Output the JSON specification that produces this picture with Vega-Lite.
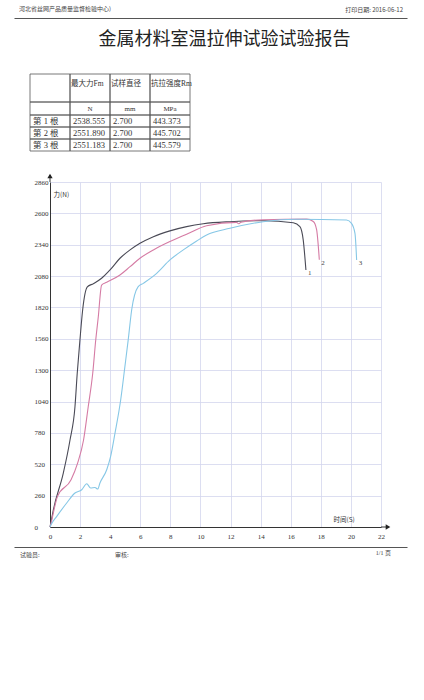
{
  "$schema": "https://vega.github.io/schema/vega-lite/v6.json",
  "background": "white",
  "padding": {"left": 19, "top": 0, "right": 14, "bottom": 20},
  "spacing": 0,
  "bounds": "flush",
  "config": {
    "view": {"stroke": null},
    "text": {"font": "Liberation Serif, Noto Sans CJK SC", "color": "#333"}
  },
  "datasets": {
    "curves": [
      {"s": "1", "t": 0, "F": 0}, {"s": "1", "t": 0.07, "F": 44}, {"s": "1", "t": 0.22, "F": 141},
      {"s": "1", "t": 0.88, "F": 445}, {"s": "1", "t": 1.33, "F": 721}, {"s": "1", "t": 1.66, "F": 997},
      {"s": "1", "t": 1.81, "F": 1274}, {"s": "1", "t": 1.99, "F": 1550}, {"s": "1", "t": 2.17, "F": 1799},
      {"s": "1", "t": 2.48, "F": 1990}, {"s": "1", "t": 2.88, "F": 2017}, {"s": "1", "t": 3.43, "F": 2062},
      {"s": "1", "t": 3.99, "F": 2131}, {"s": "1", "t": 4.65, "F": 2228}, {"s": "1", "t": 5.32, "F": 2297},
      {"s": "1", "t": 5.98, "F": 2352}, {"s": "1", "t": 6.87, "F": 2407}, {"s": "1", "t": 7.97, "F": 2455},
      {"s": "1", "t": 9.08, "F": 2490}, {"s": "1", "t": 10.19, "F": 2514}, {"s": "1", "t": 11.96, "F": 2531},
      {"s": "1", "t": 14.17, "F": 2539}, {"s": "1", "t": 16.17, "F": 2522}, {"s": "1", "t": 16.61, "F": 2490},
      {"s": "1", "t": 16.83, "F": 2380}, {"s": "1", "t": 17.01, "F": 2131},
      {"s": "2", "t": 0, "F": 0}, {"s": "2", "t": 0.07, "F": 30}, {"s": "2", "t": 0.22, "F": 116},
      {"s": "2", "t": 0.5, "F": 254}, {"s": "2", "t": 1.4, "F": 392}, {"s": "2", "t": 1.83, "F": 528},
      {"s": "2", "t": 2.23, "F": 721}, {"s": "2", "t": 2.54, "F": 997}, {"s": "2", "t": 2.84, "F": 1274},
      {"s": "2", "t": 3.04, "F": 1550}, {"s": "2", "t": 3.21, "F": 1743}, {"s": "2", "t": 3.43, "F": 2006},
      {"s": "2", "t": 3.77, "F": 2029}, {"s": "2", "t": 4.65, "F": 2089}, {"s": "2", "t": 5.32, "F": 2158},
      {"s": "2", "t": 5.98, "F": 2228}, {"s": "2", "t": 6.87, "F": 2297}, {"s": "2", "t": 7.97, "F": 2366},
      {"s": "2", "t": 9.08, "F": 2427}, {"s": "2", "t": 10.41, "F": 2498}, {"s": "2", "t": 12.4, "F": 2525},
      {"s": "2", "t": 12.55, "F": 2514}, {"s": "2", "t": 12.7, "F": 2527}, {"s": "2", "t": 14.17, "F": 2547},
      {"s": "2", "t": 17.06, "F": 2552}, {"s": "2", "t": 17.5, "F": 2533}, {"s": "2", "t": 17.72, "F": 2465},
      {"s": "2", "t": 17.9, "F": 2216},
      {"s": "3", "t": 0, "F": 0}, {"s": "3", "t": 0.07, "F": 19}, {"s": "3", "t": 0.45, "F": 88},
      {"s": "3", "t": 1.11, "F": 199}, {"s": "3", "t": 1.66, "F": 282}, {"s": "3", "t": 2.11, "F": 309},
      {"s": "3", "t": 2.44, "F": 359}, {"s": "3", "t": 2.7, "F": 323}, {"s": "3", "t": 2.99, "F": 328},
      {"s": "3", "t": 3.17, "F": 315}, {"s": "3", "t": 3.32, "F": 365}, {"s": "3", "t": 3.77, "F": 475},
      {"s": "3", "t": 4.03, "F": 585}, {"s": "3", "t": 4.32, "F": 778}, {"s": "3", "t": 4.7, "F": 1055},
      {"s": "3", "t": 4.98, "F": 1331}, {"s": "3", "t": 5.2, "F": 1553}, {"s": "3", "t": 5.43, "F": 1801},
      {"s": "3", "t": 5.85, "F": 1990}, {"s": "3", "t": 6.2, "F": 2020}, {"s": "3", "t": 7.09, "F": 2103},
      {"s": "3", "t": 7.97, "F": 2214}, {"s": "3", "t": 8.86, "F": 2297}, {"s": "3", "t": 9.75, "F": 2371},
      {"s": "3", "t": 10.41, "F": 2421}, {"s": "3", "t": 11.96, "F": 2476}, {"s": "3", "t": 14.17, "F": 2531},
      {"s": "3", "t": 16.39, "F": 2551}, {"s": "3", "t": 19.71, "F": 2545}, {"s": "3", "t": 20.04, "F": 2517},
      {"s": "3", "t": 20.27, "F": 2434}, {"s": "3", "t": 20.38, "F": 2214}
    ],
    "table": [
      {"part": "head", "row": "head", "col": "label", "text": ""},
      {"part": "head", "row": "head", "col": "Fm", "text": "最大力Fm"},
      {"part": "head", "row": "head", "col": "d0", "text": "试样直径"},
      {"part": "head", "row": "head", "col": "Rm", "text": "抗拉强度Rm"},
      {"part": "unit", "row": "unit", "col": "label", "text": ""},
      {"part": "unit", "row": "unit", "col": "Fm", "text": "N"},
      {"part": "unit", "row": "unit", "col": "d0", "text": "mm"},
      {"part": "unit", "row": "unit", "col": "Rm", "text": "MPa"},
      {"part": "body", "row": "第 1 根", "col": "label", "text": "第 1 根"},
      {"part": "body", "row": "第 1 根", "col": "Fm", "text": "2538.555"},
      {"part": "body", "row": "第 1 根", "col": "d0", "text": "2.700"},
      {"part": "body", "row": "第 1 根", "col": "Rm", "text": "443.373"},
      {"part": "body", "row": "第 2 根", "col": "label", "text": "第 2 根"},
      {"part": "body", "row": "第 2 根", "col": "Fm", "text": "2551.890"},
      {"part": "body", "row": "第 2 根", "col": "d0", "text": "2.700"},
      {"part": "body", "row": "第 2 根", "col": "Rm", "text": "445.702"},
      {"part": "body", "row": "第 3 根", "col": "label", "text": "第 3 根"},
      {"part": "body", "row": "第 3 根", "col": "Fm", "text": "2551.183"},
      {"part": "body", "row": "第 3 根", "col": "d0", "text": "2.700"},
      {"part": "body", "row": "第 3 根", "col": "Rm", "text": "445.579"}
    ]
  },
  "vconcat": [
    {
      "width": 331, "height": 18,
      "data": {"values": [
        {"label": "河北省丝网产品质量监督检验中心)", "side": "left"},
        {"label": "打印日期: 2016-06-12", "side": "right"}
      ]},
      "encoding": {
        "x": {"field": "side", "type": "nominal",
              "scale": {"type": "point", "domain": ["left", "right"], "range": [-36, 357], "padding": 0},
              "axis": {"orient": "bottom", "labels": false, "ticks": false, "title": null, "grid": false, "domainColor": "#555", "domainWidth": 1.2}},
        "text": {"field": "label"}
      },
      "layer": [
        {"transform": [{"filter": "datum.side === 'left'"}],
         "mark": {"type": "text", "align": "left", "dx": 5, "fontSize": 6, "font": "Noto Sans CJK SC", "color": "#444"}},
        {"transform": [{"filter": "datum.side === 'right'"}],
         "mark": {"type": "text", "align": "right", "dx": -4, "dy": 1, "fontSize": 6, "font": "Noto Sans CJK SC", "color": "#444"}}
      ]
    },
    {
      "width": 331, "height": 44,
      "data": {"values": [{"title": "金属材料室温拉伸试验试验报告"}]},
      "mark": {"type": "text", "fontSize": 18, "dx": 9, "font": "Noto Sans CJK SC", "color": "#222"},
      "encoding": {"text": {"field": "title"}}
    },
    {
      "width": 331, "height": 120,
      "resolve": {"scale": {"y": "independent"}},
      "layer": [
        {
          "data": {"name": "table"},
          "transform": [{"filter": "datum.part === 'head'"}],
          "encoding": {
            "x": {"field": "col", "type": "nominal", "scale": {"type": "band", "domain": ["label", "Fm", "d0", "Rm"], "range": [-20, 140], "paddingInner": 0, "paddingOuter": 0}, "axis": null},
            "y": {"field": "row", "type": "nominal", "scale": {"type": "band", "domain": ["head"], "range": [12, 40], "paddingInner": 0, "paddingOuter": 0}, "axis": null}
          },
          "layer": [
            {"mark": {"type": "rect", "fill": "transparent", "stroke": "#555", "strokeWidth": 0.8}},
            {"mark": {"type": "text", "align": "left", "dx": 1, "dy": -4, "fontSize": 7.5},
             "encoding": {
               "x": {"field": "col", "type": "nominal", "bandPosition": 0, "scale": {"type": "band", "domain": ["label", "Fm", "d0", "Rm"], "range": [-20, 140], "paddingInner": 0, "paddingOuter": 0}, "axis": null},
               "text": {"field": "text"}}}
          ]
        },
        {
          "data": {"name": "table"},
          "transform": [{"filter": "datum.part === 'unit'"}],
          "encoding": {
            "x": {"field": "col", "type": "nominal", "scale": {"type": "band", "domain": ["label", "Fm", "d0", "Rm"], "range": [-20, 140], "paddingInner": 0, "paddingOuter": 0}, "axis": null},
            "y": {"field": "row", "type": "nominal", "scale": {"type": "band", "domain": ["unit"], "range": [40, 53], "paddingInner": 0, "paddingOuter": 0}, "axis": null}
          },
          "layer": [
            {"mark": {"type": "rect", "fill": "transparent", "stroke": "#555", "strokeWidth": 0.8}},
            {"mark": {"type": "text", "align": "center", "fontSize": 7},
             "encoding": {"text": {"field": "text"}}}
          ]
        },
        {
          "data": {"name": "table"},
          "transform": [{"filter": "datum.part === 'body'"}],
          "encoding": {
            "x": {"field": "col", "type": "nominal", "scale": {"type": "band", "domain": ["label", "Fm", "d0", "Rm"], "range": [-20, 140], "paddingInner": 0, "paddingOuter": 0}, "axis": null},
            "y": {"field": "row", "type": "nominal", "scale": {"type": "band", "domain": ["第 1 根", "第 2 根", "第 3 根"], "range": [53, 89], "paddingInner": 0, "paddingOuter": 0}, "axis": null}
          },
          "layer": [
            {"mark": {"type": "rect", "fill": "transparent", "stroke": "#555", "strokeWidth": 0.8}},
            {"mark": {"type": "text", "align": "left", "dx": 3, "fontSize": 8.5},
             "encoding": {
               "x": {"field": "col", "type": "nominal", "bandPosition": 0, "scale": {"type": "band", "domain": ["label", "Fm", "d0", "Rm"], "range": [-20, 140], "paddingInner": 0, "paddingOuter": 0}, "axis": null},
               "text": {"field": "text"}}}
          ]
        }
      ]
    },
    {
      "width": 331, "height": 345,
      "resolve": {"axis": {"x": "independent", "y": "independent"}},
      "layer": [
        {
          "data": {"name": "curves"},
          "mark": {"type": "line", "strokeWidth": 1.1, "interpolate": "monotone"},
          "encoding": {
            "x": {"field": "t", "type": "quantitative",
                  "scale": {"domain": [0, 22], "nice": false, "zero": false},
                  "axis": {"values": [0, 2, 4, 6, 8, 10, 12, 14, 16, 18, 20, 22], "format": "d", "grid": true, "gridColor": "#d3d6ee", "gridWidth": 0.8,
                           "domain": true, "domainColor": "#333", "domainWidth": 1, "ticks": false,
                           "labelFont": "Liberation Serif", "labelFontSize": 7, "labelColor": "#333", "labelPadding": 5, "labelFlush": false, "labelOverlap": false,
                           "title": "时间(S)", "titleFont": "Noto Sans CJK SC", "titleFontSize": 6.5, "titleFontWeight": "normal", "titleColor": "#333",
                           "titleX": 283, "titleY": -8, "titleAlign": "left", "titleBaseline": "middle"}},
            "y": {"field": "F", "type": "quantitative",
                  "scale": {"domain": [0, 2860], "nice": false},
                  "axis": {"values": [0, 260, 520, 780, 1040, 1300, 1560, 1820, 2080, 2340, 2600, 2860], "format": "d", "grid": true, "gridColor": "#d3d6ee", "gridWidth": 0.8,
                           "domain": true, "domainColor": "#333", "domainWidth": 1, "ticks": false,
                           "labelFont": "Liberation Serif", "labelFontSize": 7, "labelColor": "#333", "labelPadding": 16, "labelAlign": "left", "labelBaseline": "middle", "labelFlush": false, "labelOverlap": false,
                           "title": "力(N)", "titleFont": "Noto Sans CJK SC", "titleFontSize": 6.5, "titleFontWeight": "normal", "titleColor": "#333",
                           "titleAngle": 0, "titleX": 3, "titleY": 12, "titleAlign": "left", "titleBaseline": "middle"}},
            "color": {"field": "s", "type": "nominal", "scale": {"domain": ["1", "2", "3"], "range": ["#4a4a56", "#d57ba4", "#86c7e6"]}, "legend": null}
          }
        },
        {
          "data": {"name": "curves"},
          "transform": [
            {"joinaggregate": [{"op": "max", "field": "t", "as": "tmax"}], "groupby": ["s"]},
            {"filter": "datum.t === datum.tmax"}
          ],
          "mark": {"type": "text", "align": "left", "baseline": "middle", "dx": 2, "dy": 3, "fontSize": 7, "color": "#444"},
          "encoding": {
            "x": {"field": "t", "type": "quantitative", "axis": null},
            "y": {"field": "F", "type": "quantitative", "axis": null},
            "text": {"field": "s"}
          }
        },
        {
          "data": {"values": [{}]},
          "mark": {"type": "rule", "color": "#333", "strokeWidth": 1, "y2Offset": -7},
          "encoding": {
            "x": {"datum": 0, "type": "quantitative", "axis": null},
            "y": {"datum": 2860, "type": "quantitative", "axis": null},
            "y2": {"datum": 2860}
          }
        },
        {
          "data": {"values": [{}]},
          "mark": {"type": "point", "shape": "triangle-up", "filled": true, "size": 28, "color": "#222", "opacity": 1, "yOffset": -6},
          "encoding": {
            "x": {"datum": 0, "type": "quantitative", "axis": null},
            "y": {"datum": 2860, "type": "quantitative", "axis": null}
          }
        },
        {
          "data": {"values": [{}]},
          "mark": {"type": "rule", "color": "#333", "strokeWidth": 1, "x2Offset": 7},
          "encoding": {
            "x": {"datum": 22, "type": "quantitative", "axis": null},
            "x2": {"datum": 22},
            "y": {"datum": 0, "type": "quantitative", "axis": null}
          }
        },
        {
          "data": {"values": [{}]},
          "mark": {"type": "point", "shape": "triangle-right", "filled": true, "size": 28, "color": "#222", "opacity": 1, "xOffset": 7},
          "encoding": {
            "x": {"datum": 22, "type": "quantitative", "axis": null},
            "y": {"datum": 0, "type": "quantitative", "axis": null}
          }
        }
      ]
    },
    {
      "width": 331, "height": 52,
      "data": {"values": [
        {"label": "试验员:", "side": "left"},
        {"label": "审核:", "side": "left"},
        {"label": "1/1 页", "side": "right"}
      ]},
      "encoding": {
        "x": {"field": "side", "type": "nominal",
              "scale": {"type": "point", "domain": ["left", "right"], "range": [-36, 357], "padding": 0},
              "axis": {"orient": "top", "offset": -20, "labels": false, "ticks": false, "title": null, "grid": false, "domainColor": "#555", "domainWidth": 1.2}},
        "text": {"field": "label"}
      },
      "layer": [
        {"transform": [{"filter": "datum.label === '试验员:'"}],
         "mark": {"type": "text", "align": "left", "dx": 6, "dy": 2, "fontSize": 6, "font": "Noto Sans CJK SC", "color": "#444"}},
        {"transform": [{"filter": "datum.label === '审核:'"}],
         "mark": {"type": "text", "align": "left", "dx": 101, "dy": 2, "fontSize": 6, "font": "Noto Sans CJK SC", "color": "#444"}},
        {"transform": [{"filter": "datum.label === '1/1 页'"}],
         "mark": {"type": "text", "align": "right", "dx": -16, "fontSize": 6, "font": "Liberation Serif, Noto Sans CJK SC", "color": "#444"}}
      ]
    }
  ]
}
